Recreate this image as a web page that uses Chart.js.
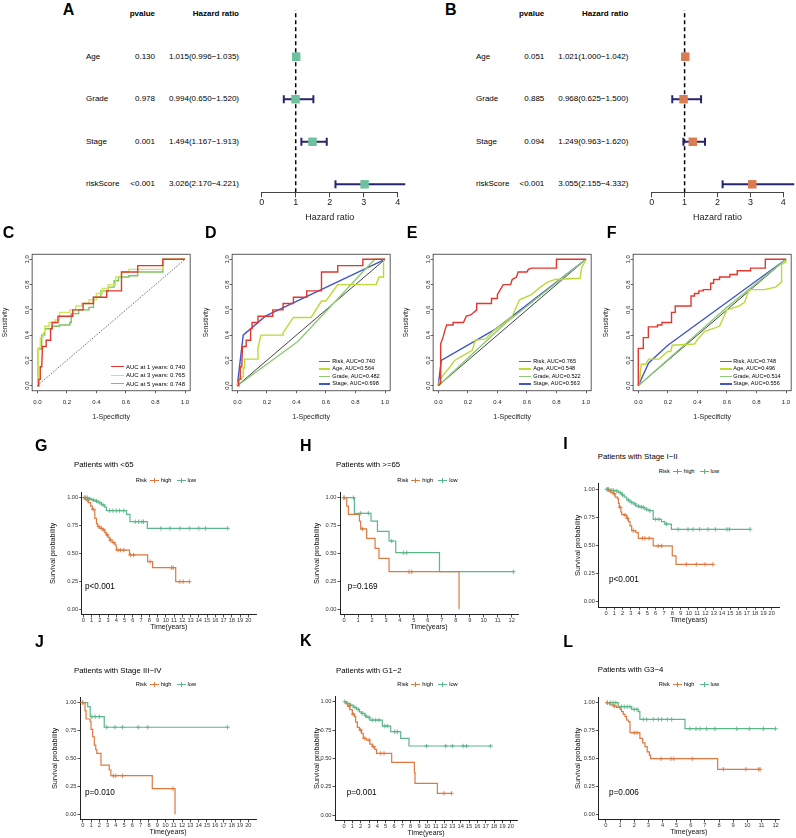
<!DOCTYPE html>
<html>
<head>
<meta charset="utf-8">
<script src="https://cdn.jsdelivr.net/npm/chart.js@4/dist/chart.umd.min.js"></script>
<style>
  body { margin: 0; background: #fff; }
  #fig { position: relative; width: 796px; height: 838px; overflow: hidden;
         font-family: "Liberation Sans", Arial, Helvetica, sans-serif; color: #000; }
  #fig canvas { position: absolute; }
  .t { position: absolute; white-space: nowrap; }
  .sym { display: inline-block; position: relative; width: 9px; height: 1px; vertical-align: middle; margin: 0 2px 0 3px; }
  .sym::after { content: ''; position: absolute; left: 4px; top: -2px; width: 1px; height: 5px; background: inherit; }
  .leg { position: absolute; white-space: nowrap; font-size: 5.7px; line-height: 7px; display: flex; align-items: center; }
</style>
</head>
<body>
<div id="fig"></div>
<script>
// ---------------- data ----------------
// forest plots (A: univariate, B: multivariate)
const forestVars = ['Age', 'Grade', 'Stage', 'riskScore'];
const uniP = ['0.130', '0.978', '0.001', '<0.001'];
const uniHR = [1.015, 0.994, 1.494, 3.026];
const uniLow = [0.996, 0.650, 1.167, 2.170];
const uniHigh = [1.035, 1.520, 1.913, 4.221];
const multiP = ['0.051', '0.885', '0.094', '<0.001'];
const multiHR = [1.021, 0.968, 1.249, 3.055];
const multiLow = [1.000, 0.625, 0.963, 2.155];
const multiHigh = [1.042, 1.500, 1.620, 4.332];
const hrTicks = [0, 1, 2, 3, 4];
const refHR = 1;

// ROC curves [1-specificity, sensitivity]
const rocTicks = [0, 0.2, 0.4, 0.6, 0.8, 1.0];
const rocYears = [1, 3, 5];
const rocYearAUC = ['0.740', '0.765', '0.748'];
const rocRisk1 = [[0,0],[0.01,0],[0.01,0.05],[0.02,0.05],[0.02,0.15],[0.03,0.15],[0.035,0.31],[0.06,0.31],[0.06,0.36],[0.09,0.36],[0.09,0.45],[0.1,0.45],[0.1,0.5],[0.14,0.5],[0.14,0.55],[0.24,0.55],[0.24,0.6],[0.31,0.6],[0.31,0.65],[0.38,0.65],[0.38,0.7],[0.47,0.7],[0.47,0.75],[0.57,0.75],[0.57,0.9],[0.68,0.9],[0.68,0.95],[0.85,0.95],[0.85,1],[1,1]];
const rocRisk3 = [[0,0],[0.005,0],[0.005,0.2],[0.01,0.2],[0.01,0.3],[0.02,0.3],[0.02,0.38],[0.04,0.38],[0.04,0.42],[0.05,0.42],[0.05,0.47],[0.08,0.47],[0.08,0.5],[0.12,0.5],[0.12,0.52],[0.15,0.52],[0.15,0.58],[0.22,0.58],[0.22,0.6],[0.26,0.6],[0.26,0.63],[0.3,0.63],[0.3,0.65],[0.35,0.65],[0.35,0.68],[0.4,0.68],[0.4,0.73],[0.44,0.73],[0.44,0.77],[0.48,0.77],[0.48,0.8],[0.53,0.8],[0.53,0.86],[0.57,0.86],[0.57,0.9],[0.62,0.9],[0.62,0.92],[0.85,0.92],[0.85,1],[1,1]];
const rocRisk5 = [[0,0],[0.005,0],[0.005,0.29],[0.03,0.29],[0.03,0.4],[0.05,0.4],[0.05,0.45],[0.1,0.45],[0.1,0.47],[0.15,0.47],[0.15,0.48],[0.22,0.48],[0.22,0.5],[0.23,0.5],[0.23,0.57],[0.28,0.57],[0.28,0.6],[0.35,0.6],[0.35,0.62],[0.38,0.62],[0.38,0.7],[0.43,0.7],[0.43,0.75],[0.48,0.75],[0.48,0.78],[0.52,0.78],[0.52,0.83],[0.55,0.83],[0.55,0.86],[0.62,0.86],[0.62,0.87],[0.68,0.87],[0.68,0.9],[0.85,0.9],[0.85,1],[1,1]];

const clinVars = ['Risk', 'Age', 'Grade', 'Stage'];
const aucD = ['0.740', '0.564', '0.482', '0.698'];
const aucE = ['0.765', '0.548', '0.522', '0.563'];
const aucF = ['0.748', '0.496', '0.514', '0.556'];
const rocD_age = [[0,0],[0.01,0.05],[0.03,0.05],[0.03,0.07],[0.04,0.07],[0.04,0.14],[0.05,0.14],[0.05,0.21],[0.14,0.21],[0.14,0.3],[0.16,0.4],[0.31,0.4],[0.31,0.42],[0.38,0.54],[0.5,0.54],[0.57,0.67],[0.6,0.67],[0.68,0.8],[0.94,0.8],[0.96,0.86],[0.99,0.86],[0.99,1],[1,1]];
const rocD_grade = [[0,0],[0.41,0.35],[0.93,1],[1,1]];
const rocD_stage = [[0,0],[0.04,0.4],[0.19,0.55],[1,1]];
const rocE_risk = [[0,0],[0.016,0.02],[0.016,0.33],[0.034,0.39],[0.045,0.44],[0.057,0.48],[0.1,0.48],[0.1,0.5],[0.17,0.5],[0.19,0.55],[0.22,0.56],[0.26,0.6],[0.26,0.65],[0.36,0.65],[0.36,0.69],[0.4,0.69],[0.4,0.72],[0.42,0.76],[0.44,0.8],[0.49,0.8],[0.5,0.84],[0.53,0.86],[0.54,0.9],[0.6,0.9],[0.61,0.92],[0.63,0.93],[0.8,0.93],[0.8,1],[1,1]];
const rocE_age = [[0,0],[0.01,0.04],[0.03,0.08],[0.08,0.15],[0.11,0.2],[0.17,0.24],[0.23,0.28],[0.25,0.36],[0.32,0.37],[0.38,0.44],[0.45,0.5],[0.5,0.55],[0.55,0.68],[0.63,0.72],[0.68,0.77],[0.74,0.82],[0.79,0.84],[0.96,0.85],[0.97,0.93],[1,1]];
const rocE_grade = [[0,0],[0.45,0.49],[1,1]];
const rocE_stage = [[0,0],[0.02,0.2],[0.39,0.45],[1,1]];
const rocF_risk = [[0,0],[0,0.295],[0.034,0.295],[0.034,0.38],[0.068,0.38],[0.068,0.465],[0.13,0.465],[0.13,0.48],[0.16,0.48],[0.16,0.5],[0.225,0.5],[0.225,0.58],[0.25,0.58],[0.25,0.63],[0.357,0.63],[0.357,0.71],[0.38,0.71],[0.38,0.73],[0.41,0.73],[0.41,0.75],[0.44,0.75],[0.44,0.76],[0.49,0.76],[0.49,0.81],[0.51,0.81],[0.51,0.84],[0.55,0.84],[0.55,0.86],[0.62,0.86],[0.62,0.88],[0.67,0.88],[0.67,0.91],[0.76,0.91],[0.76,0.93],[0.86,0.93],[0.86,1],[1,1]];
const rocF_age = [[0,0],[0.01,0.05],[0.02,0.17],[0.05,0.17],[0.07,0.21],[0.14,0.21],[0.2,0.27],[0.22,0.27],[0.23,0.32],[0.38,0.33],[0.41,0.38],[0.45,0.43],[0.5,0.45],[0.55,0.47],[0.6,0.6],[0.68,0.63],[0.72,0.66],[0.75,0.76],[0.85,0.76],[0.93,0.78],[0.97,0.82],[0.97,0.96],[1,0.98],[1,1]];
const rocF_grade = [[0,0],[0.6,0.62],[1,1]];
const rocF_stage = [[0,0],[0.07,0.18],[0.2,0.32],[1,1]];

// Kaplan-Meier curves: event times, survival after each step, censor times
const survTicks = [0, 0.25, 0.5, 0.75, 1];
const timeTicks20 = [0,1,2,3,4,5,6,7,8,9,10,11,12,13,14,15,16,17,18,19,20];
const timeTicks12 = [0,1,2,3,4,5,6,7,8,9,10,11,12];

const gHighT = [0,0.3,0.6,0.9,1.1,1.4,1.6,1.75,2.0,2.4,2.6,2.8,3.0,3.2,3.5,3.85,4.0,5.6,7.8,8.4,11.2];
const gHighS = [1,0.98,0.955,0.925,0.895,0.815,0.765,0.74,0.725,0.71,0.687,0.666,0.645,0.62,0.597,0.576,0.53,0.487,0.427,0.373,0.248];
const gHighC = [0.2,0.5,1.2,1.9,2.2,2.5,2.9,3.3,3.7,4.2,4.5,4.9,5.7,6.1,8.1,10.7,10.9,11.7,12.1,12.85];
const gLowT = [0,0.6,1.0,1.4,1.8,2.2,2.6,2.8,5.25,5.66,7.76];
const gLowS = [1,0.99,0.98,0.97,0.955,0.935,0.915,0.884,0.85,0.785,0.725];
const gLowC = [0.1,0.3,0.5,0.8,1.2,1.6,2.0,2.4,3.2,3.6,4.0,4.4,4.9,6.3,6.7,7.1,7.3,9.4,10.5,11.7,12.85,14.0,14.8,17.5];

const hHighT = [0,0.19,0.31,1.1,1.19,1.62,2.22,2.5,3.22,8.23];
const hHighS = [1,0.925,0.85,0.79,0.72,0.636,0.546,0.457,0.337,0];
const hHighC = [0,1.31,4.65,4.85];
const hLowT = [0,0.74,1.93,2.39,3.22,3.7,6.83];
const hLowS = [1,0.86,0.79,0.698,0.612,0.507,0.337];
const hLowC = [0,0.67,1.19,1.74,3.41,4.25,4.49,12.12];

const iHighT = [0,0.3,0.6,0.9,1.1,1.4,1.5,1.6,1.8,1.9,2.2,2.5,2.7,2.9,3.1,3.6,3.9,5.7,8.0,8.45];
const iHighS = [1,0.985,0.97,0.96,0.93,0.917,0.875,0.84,0.80,0.777,0.77,0.742,0.712,0.674,0.632,0.614,0.564,0.496,0.407,0.332];
const iHighC = [0.2,0.5,1.0,1.7,2.3,2.6,3.3,4.4,4.7,5.2,6.3,6.7,9.7,10.9,11.95,12.9];
const iLowT = [0,0.5,1.1,1.5,1.9,2.2,2.5,2.9,3.3,3.6,4.1,4.7,5.1,5.7,6.7,7.1,7.9];
const iLowS = [1,0.99,0.985,0.97,0.95,0.93,0.905,0.884,0.87,0.85,0.84,0.822,0.81,0.733,0.712,0.69,0.644];
const iLowC = [0.1,0.3,0.7,0.9,1.3,1.7,2.0,2.7,3.1,3.5,3.9,4.3,4.5,4.9,5.3,6.0,6.4,7.3,8.7,9.9,10.5,11.3,12.3,13.2,14.6,14.9,17.4];

const jHighT = [0,0.28,0.4,0.9,1.0,1.2,1.4,1.57,1.7,2.2,3.2,3.4,8.4,11.15];
const jHighS = [1,0.928,0.854,0.83,0.76,0.695,0.62,0.58,0.546,0.44,0.397,0.346,0.23,0];
const jHighC = [0,3.7,4.0,4.8,10.9];
const jLowT = [0,0.6,0.9,2.6];
const jLowS = [1,0.964,0.875,0.78];
const jLowC = [0,1.1,1.5,2.0,2.9,3.9,4.8,6.7,7.85,17.5];

const kHighT = [0,0.25,0.45,0.7,1.0,1.25,1.4,1.6,1.85,2.1,2.3,2.7,3.1,3.4,3.7,3.9,5.72,8.44,8.52,11.2];
const kHighS = [1,0.98,0.96,0.93,0.89,0.87,0.82,0.774,0.75,0.72,0.676,0.662,0.626,0.603,0.58,0.544,0.465,0.374,0.279,0.191];
const kHighC = [0.6,1.1,2.0,2.5,3.0,3.5,4.4,4.8,12.0,12.9];
const kLowT = [0,0.3,0.7,1.1,1.5,1.85,2.1,2.5,2.7,3.1,4.6,5.6,6.8,7.8];
const kLowS = [1,0.985,0.97,0.95,0.932,0.91,0.897,0.876,0.862,0.838,0.785,0.735,0.676,0.609];
const kLowC = [0.1,0.4,0.8,1.3,1.7,2.2,2.6,3.0,3.4,3.8,4.2,4.9,5.2,6.1,6.4,9.9,12.2,13.0,14.3,14.7,17.6];

const lHighT = [0,0.28,0.52,0.75,1.0,1.1,1.23,1.35,1.46,1.58,1.7,2.4,2.6,2.76,2.92,3.07,3.16,7.9];
const lHighS = [1,0.98,0.97,0.958,0.94,0.92,0.896,0.875,0.845,0.83,0.731,0.68,0.64,0.606,0.56,0.53,0.498,0.403];
const lHighC = [0.1,0.6,2.0,2.2,3.9,4.6,4.8,6.1,8.3,9.9,10.8,10.9];
const lLowT = [0,0.87,1.82,2.29,2.4,5.59];
const lLowS = [1,0.964,0.94,0.92,0.85,0.767];
const lLowC = [0.1,0.3,0.5,0.7,1.1,1.3,1.5,1.7,2.0,2.2,2.64,2.88,3.35,3.7,3.94,4.34,4.65,5.94,6.37,6.65,7.12,7.71,9.25,10.14,11.13,12.0];

// ---------------- styling ----------------
const FONT = '"Liberation Sans", Arial, Helvetica, sans-serif';
Chart.defaults.font.family = FONT;
Chart.defaults.color = '#222';
const navy = '#26266E';
const colHigh = '#E0783F';
const colLow = '#5CB68A';
const rocRed = '#E2372E';
const rocAge = '#BCD936';
const rocGrade = '#8DCA78';
const rocStage = '#4356C6';

const fig = document.getElementById('fig');

function label(text, x, cy, size, opt = {}) {
  const d = document.createElement('div');
  d.className = 't';
  d.textContent = text;
  d.style.left = x + 'px';
  d.style.top = (cy - size / 2) + 'px';
  d.style.fontSize = size + 'px';
  d.style.lineHeight = size + 'px';
  if (opt.bold) d.style.fontWeight = 'bold';
  if (opt.color) d.style.color = opt.color;
  if (opt.align === 'right') d.style.transform = 'translateX(-100%)';
  if (opt.align === 'center') d.style.transform = 'translateX(-50%)';
  fig.appendChild(d);
  return d;
}

function makeCanvas(box) {
  const cv = document.createElement('canvas');
  cv.width = box.w;
  cv.height = box.h;
  cv.style.left = box.x + 'px';
  cv.style.top = box.y + 'px';
  cv.style.width = box.w + 'px';
  cv.style.height = box.h + 'px';
  fig.appendChild(cv);
  return cv.getContext('2d');
}

function padFor(box, area, yW, xH) {
  return {
    left: area.l - box.x - yW,
    top: area.t - box.y,
    right: box.x + box.w - area.r,
    bottom: box.y + box.h - area.b - xH,
  };
}

function baseOptions() {
  return {
    responsive: false,
    animation: false,
    devicePixelRatio: 1,
    events: [],
    plugins: { legend: { display: false }, tooltip: { enabled: false } },
  };
}

const fixedTicks = (vals) => (s) => { s.ticks = vals.map(v => ({ value: v })); };

// ---------------- forest plots ----------------
const forestYMin = 0.812, forestYMax = 5.098;

function forest(box, area, hr, lo, hi, sq) {
  const n = hr.length;
  const xH = 31.1;
  const opts = baseOptions();
  opts.layout = { padding: padFor(box, area, 0, xH) };
  opts.scales = {
    x: {
      type: 'linear', min: 0, max: 4,
      afterBuildTicks: fixedTicks(hrTicks),
      border: { display: true, color: '#444', width: 1 },
      grid: { drawOnChartArea: false, tickLength: 5, color: '#444', lineWidth: 1 },
      ticks: { font: { size: 9 }, color: '#222', padding: 0 },
      title: { display: true, text: 'Hazard ratio', font: { size: 9 }, color: '#222', padding: 0 },
      afterFit: (s) => { s.height = xH; },
    },
    y: { type: 'linear', display: false, min: forestYMin, max: forestYMax },
  };
  const ds = [{
    data: hr.map((v, i) => ({ x: v, y: n - i })),
    pointStyle: 'rect', pointRadius: 6,
    pointBackgroundColor: sq, pointBorderColor: sq, pointBorderWidth: 0,
    clip: false, order: 0,
  }];
  hr.forEach((v, i) => ds.push({
    data: [{ x: lo[i], y: n - i }, { x: hi[i], y: n - i }],
    showLine: true, borderColor: navy, borderWidth: 2,
    pointStyle: 'line', pointRotation: 90, pointRadius: 4,
    pointBorderColor: navy, pointBorderWidth: 2,
    clip: false, order: 1,
  }));
  ds.push({
    data: [{ x: refHR, y: forestYMin }, { x: refHR, y: forestYMax }],
    showLine: true, borderColor: '#000', borderWidth: 1.5, borderDash: [4, 3],
    pointRadius: 0, order: 2,
  });
  return new Chart(makeCanvas(box), { type: 'scatter', data: { datasets: ds }, options: opts });
}

function forestText(chart, box, xLab, xP, xHR, pv, hr, lo, hi) {
  const n = hr.length;
  label('pvalue', xP, 14, 8, { bold: true, align: 'right' });
  label('Hazard ratio', xHR, 14, 8, { bold: true, align: 'right' });
  forestVars.forEach((name, i) => {
    const cy = box.y + chart.scales.y.getPixelForValue(n - i);
    label(name, xLab, cy, 8);
    label(pv[i], xP, cy, 8, { align: 'right' });
    label(hr[i].toFixed(3) + '(' + lo[i].toFixed(3) + '\u2212' + hi[i].toFixed(3) + ')', xHR, cy, 8, { align: 'right' });
  });
}

const boxA = { x: 250, y: 0, w: 165, h: 226 };
const chA = forest(boxA, { l: 261.7, t: 10, r: 397.7, b: 192.3 }, uniHR, uniLow, uniHigh, '#6DC19C');
forestText(chA, boxA, 86, 155, 239, uniP, uniHR, uniLow, uniHigh);

const boxB = { x: 640, y: 0, w: 156, h: 226 };
const chB = forest(boxB, { l: 651.7, t: 10, r: 783.3, b: 192.3 }, multiHR, multiLow, multiHigh, '#DA7B52');
forestText(chB, boxB, 476, 544.3, 628.3, multiP, multiHR, multiLow, multiHigh);

// ---------------- ROC plots ----------------
const rocFrame = {
  id: 'rocFrame',
  afterDatasetsDraw(chart) {
    const { ctx, chartArea: a, scales: { y } } = chart;
    ctx.save();
    ctx.strokeStyle = '#333';
    ctx.lineWidth = 0.8;
    ctx.strokeRect(a.left, a.top, a.right - a.left, a.bottom - a.top);
    ctx.fillStyle = '#222';
    ctx.font = '6px ' + FONT;
    ctx.textAlign = 'center';
    ctx.textBaseline = 'middle';
    rocTicks.forEach((v) => {
      ctx.save();
      ctx.translate(a.left - 5, y.getPixelForValue(v));
      ctx.rotate(-Math.PI / 2);
      ctx.fillText(v.toFixed(1), 0, 0);
      ctx.restore();
    });
    ctx.restore();
  },
};

function roc(box, area, yW, curves, diag) {
  const xH = 30.9;
  const opts = baseOptions();
  opts.layout = { padding: padFor(box, area, yW, xH) };
  opts.scales = {
    x: {
      type: 'linear', min: -0.035, max: 1.035,
      afterBuildTicks: fixedTicks(rocTicks),
      border: { display: false },
      grid: { drawOnChartArea: false, tickLength: 2.5, color: '#333', lineWidth: 0.8 },
      ticks: { font: { size: 6 }, color: '#222', padding: 5.3, callback: (v) => v.toFixed(1) },
      title: { display: true, text: '1-Specificity', font: { size: 7 }, color: '#222', padding: 0 },
      afterFit: (s) => { s.height = xH; },
    },
    y: {
      type: 'linear', min: -0.04, max: 1.04,
      afterBuildTicks: fixedTicks(rocTicks),
      border: { display: false },
      grid: { drawOnChartArea: false, tickLength: 2.5, color: '#333', lineWidth: 0.8 },
      ticks: { display: false },
      title: { display: true, text: 'Sensitivity', font: { size: 6.5 }, color: '#222', padding: 0 },
      afterFit: (s) => { s.width = yW; },
    },
  };
  const ds = curves.map((c) => ({
    data: c.pts.map(([x, y]) => ({ x, y })),
    showLine: true, borderColor: c.color, borderWidth: 1.4, pointRadius: 0,
  }));
  ds.push({
    data: [{ x: 0, y: 0 }, { x: 1, y: 1 }],
    showLine: true, borderColor: diag.color, borderWidth: diag.width,
    borderDash: diag.dash, pointRadius: 0,
  });
  return new Chart(makeCanvas(box), {
    type: 'scatter', data: { datasets: ds }, options: opts, plugins: [rocFrame],
  });
}

function rocLegend(lineX, lineW, textX, ys, colors, texts, fs) {
  texts.forEach((txt, i) => {
    const ln = document.createElement('div');
    ln.style.cssText = 'position:absolute;height:1.4px;left:' + lineX + 'px;width:' + lineW +
      'px;top:' + (ys[i] - 0.7) + 'px;background:' + colors[i];
    fig.appendChild(ln);
    label(txt, textX, ys[i], fs);
  });
}

roc({ x: 0, y: 220, w: 198, h: 202 }, { l: 32.13, t: 254.25, r: 190.17, b: 390.75 }, 31.03,
  [{ pts: rocRisk1, color: rocRed }, { pts: rocRisk3, color: '#CDE65E' }, { pts: rocRisk5, color: '#7DC35C' }],
  { color: '#444', width: 0.8, dash: [1.5, 1.5] });
rocLegend(111, 13, 126, [366.7, 375.3, 383.7], [rocRed, '#CDE65E', '#7DC35C'],
  rocYears.map((y, i) => 'AUC at ' + y + ' years: ' + rocYearAUC[i]), 6);

const clinColors = [rocRed, rocAge, rocGrade, rocStage];
const diagSolid = { color: '#111', width: 0.8, dash: [] };

roc({ x: 200, y: 220, w: 198, h: 202 }, { l: 232.13, t: 254.25, r: 390.17, b: 390.75 }, 29.33,
  [{ pts: rocRisk1, color: rocRed }, { pts: rocD_age, color: rocAge }, { pts: rocD_grade, color: rocGrade }, { pts: rocD_stage, color: rocStage }],
  diagSolid);
rocLegend(319, 11, 332.3, [361.3, 369, 376.5, 384], clinColors, clinVars.map((v, i) => v + ', AUC=' + aucD[i]), 5.6);

roc({ x: 400, y: 220, w: 198, h: 202 }, { l: 433.13, t: 254.25, r: 591.17, b: 390.75 }, 30.33,
  [{ pts: rocE_risk, color: rocRed }, { pts: rocE_age, color: rocAge }, { pts: rocE_grade, color: rocGrade }, { pts: rocE_stage, color: rocStage }],
  diagSolid);
rocLegend(519, 12, 533.3, [361.3, 369, 376.5, 384], clinColors, clinVars.map((v, i) => v + ', AUC=' + aucE[i]), 5.6);

roc({ x: 600, y: 220, w: 196, h: 202 }, { l: 633.13, t: 254.25, r: 791.17, b: 390.75 }, 30.33,
  [{ pts: rocF_risk, color: rocRed }, { pts: rocF_age, color: rocAge }, { pts: rocF_grade, color: rocGrade }, { pts: rocF_stage, color: rocStage }],
  diagSolid);
rocLegend(720, 12, 733.3, [361.3, 369, 376.5, 384], clinColors, clinVars.map((v, i) => v + ', AUC=' + aucF[i]), 5.6);

// ---------------- Kaplan-Meier plots ----------------
function kmSteps(t, s, c) {
  const pts = t.map((v, i) => ({ x: v, y: s[i] }));
  const tEnd = Math.max(...c);
  if (tEnd > t[t.length - 1]) pts.push({ x: tEnd, y: s[s.length - 1] });
  return pts;
}

function kmCensor(t, s, c) {
  return c.map((v) => {
    let k = 0;
    while (k + 1 < t.length && t[k + 1] <= v) k++;
    return { x: v, y: s[k] };
  });
}

function km(p) {
  const a = p.area;
  const xH = 16.7;
  const box = { x: Math.floor(a.l - p.yW - 4), y: Math.floor(a.t - 8) };
  box.w = Math.ceil(a.r + 8 - box.x);
  box.h = Math.ceil(a.b + xH + 4 - box.y);
  const opts = baseOptions();
  opts.layout = { padding: padFor(box, a, p.yW, xH) };
  opts.scales = {
    x: {
      type: 'linear', min: p.xMin, max: p.xMax,
      afterBuildTicks: fixedTicks(p.ticks),
      border: { display: true, color: '#222', width: 1 },
      grid: { drawOnChartArea: false, tickLength: 2.5, color: '#222', lineWidth: 0.8 },
      ticks: { font: { size: 5.7 }, color: '#333', padding: 0, autoSkip: false, maxRotation: 0 },
      title: { display: true, text: 'Time(years)', font: { size: 7 }, color: '#111', padding: 0 },
      afterFit: (s) => { s.height = xH; },
    },
    y: {
      type: 'linear', min: -0.05, max: 1.05,
      afterBuildTicks: fixedTicks(survTicks),
      border: { display: true, color: '#222', width: 1 },
      grid: { drawOnChartArea: false, tickLength: 2.5, color: '#222', lineWidth: 0.8 },
      ticks: { font: { size: 5.7 }, color: '#333', padding: 1, callback: (v) => v.toFixed(2) },
      title: { display: true, text: 'Survival probability', font: { size: 7.3 }, color: '#111', padding: 0 },
      afterFit: (s) => { s.width = p.yW; },
    },
  };
  const [hT, hS, hC] = p.high;
  const [lT, lS, lC] = p.low;
  const line = (data, color) => ({
    data, showLine: true, stepped: 'before', borderColor: color, borderWidth: 1.2, pointRadius: 0,
  });
  const cens = (data, color) => ({
    data, pointStyle: 'cross', pointRadius: 2.2, pointBorderColor: color, pointBorderWidth: 0.9,
  });
  const ds = [
    cens(kmCensor(hT, hS, hC), colHigh),
    cens(kmCensor(lT, lS, lC), colLow),
    line(kmSteps(hT, hS, hC), colHigh),
    line(kmSteps(lT, lS, lC), colLow),
  ];
  new Chart(makeCanvas(box), { type: 'scatter', data: { datasets: ds }, options: opts });

  label(p.title, p.titleX, p.titleY, 7.8);
  label(p.pText, p.pX, p.pY, 8.2);
  const lg = document.createElement('div');
  lg.className = 'leg';
  lg.style.left = p.legX + 'px';
  lg.style.top = (p.legY - 3.5) + 'px';
  lg.innerHTML = '<span>Risk</span><span class="sym" style="background:' + colHigh + '"></span><span>high</span>' +
    '<span class="sym" style="background:' + colLow + ';margin-left:5px"></span><span>low</span>';
  fig.appendChild(lg);
}

km({ area: { l: 81.7, t: 492.1, r: 256, b: 614.9 }, yW: 33.08, xMin: -0.19, xMax: 20.93, ticks: timeTicks20,
  high: [gHighT, gHighS, gHighC], low: [gLowT, gLowS, gLowC],
  title: 'Patients with <65', titleX: 74, titleY: 465, pText: 'p<0.001', pX: 85, pY: 586.7, legX: 135.7, legY: 480 });
km({ area: { l: 340, t: 492.1, r: 518.3, b: 614.9 }, yW: 27.68, xMin: -0.29, xMax: 12.47, ticks: timeTicks12,
  high: [hHighT, hHighS, hHighC], low: [hLowT, hLowS, hLowC],
  title: 'Patients with >=65', titleX: 336, titleY: 465, pText: 'p=0.169', pX: 347.7, pY: 586.7, legX: 397.3, legY: 480 });
km({ area: { l: 598.3, t: 483.7, r: 779.3, b: 607.3 }, yW: 24.98, xMin: -0.93, xMax: 20.92, ticks: timeTicks20,
  high: [iHighT, iHighS, iHighC], low: [iLowT, iLowS, iLowC],
  title: 'Patients with Stage I\u2212II', titleX: 597.7, titleY: 456.7, pText: 'p<0.001', pX: 609, pY: 580, legX: 658.7, legY: 471.7 });
km({ area: { l: 80, t: 697.1, r: 256, b: 819.9 }, yW: 29.38, xMin: -0.33, xMax: 20.93, ticks: timeTicks20,
  high: [jHighT, jHighS, jHighC], low: [jLowT, jLowS, jLowC],
  title: 'Patients with Stage III\u2212IV', titleX: 74, titleY: 670.7, pText: 'p=0.010', pX: 85, pY: 792.7, legX: 135.7, legY: 684.3 });
km({ area: { l: 335, t: 696, r: 517.3, b: 820.7 }, yW: 22.68, xMin: -1.08, xMax: 20.79, ticks: timeTicks20,
  high: [kHighT, kHighS, kHighC], low: [kLowT, kLowS, kLowC],
  title: 'Patients with G1\u22122', titleX: 336, titleY: 670.7, pText: 'p=0.001', pX: 346.7, pY: 793.3, legX: 397.3, legY: 684.3 });
km({ area: { l: 598.3, t: 697.1, r: 779.3, b: 819.9 }, yW: 24.98, xMin: -0.54, xMax: 12.26, ticks: timeTicks12,
  high: [lHighT, lHighS, lHighC], low: [lLowT, lLowS, lLowC],
  title: 'Patients with G3\u22124', titleX: 597.7, titleY: 670, pText: 'p=0.006', pX: 609, pY: 793.3, legX: 658.7, legY: 684.3 });

// ---------------- panel tags ----------------
[['A', 62.7, 9.7], ['B', 445, 9.7], ['C', 2.7, 232.7], ['D', 205, 232.7], ['E', 406.7, 232.7], ['F', 606.7, 232.7],
 ['G', 35, 445.7], ['H', 300, 445.7], ['I', 563.3, 444], ['J', 35, 642.4], ['K', 300, 640.7], ['L', 563.3, 642.4]]
  .forEach(([tag, x, cy]) => label(tag, x, cy, 16, { bold: true }));
</script>
</body>
</html>
